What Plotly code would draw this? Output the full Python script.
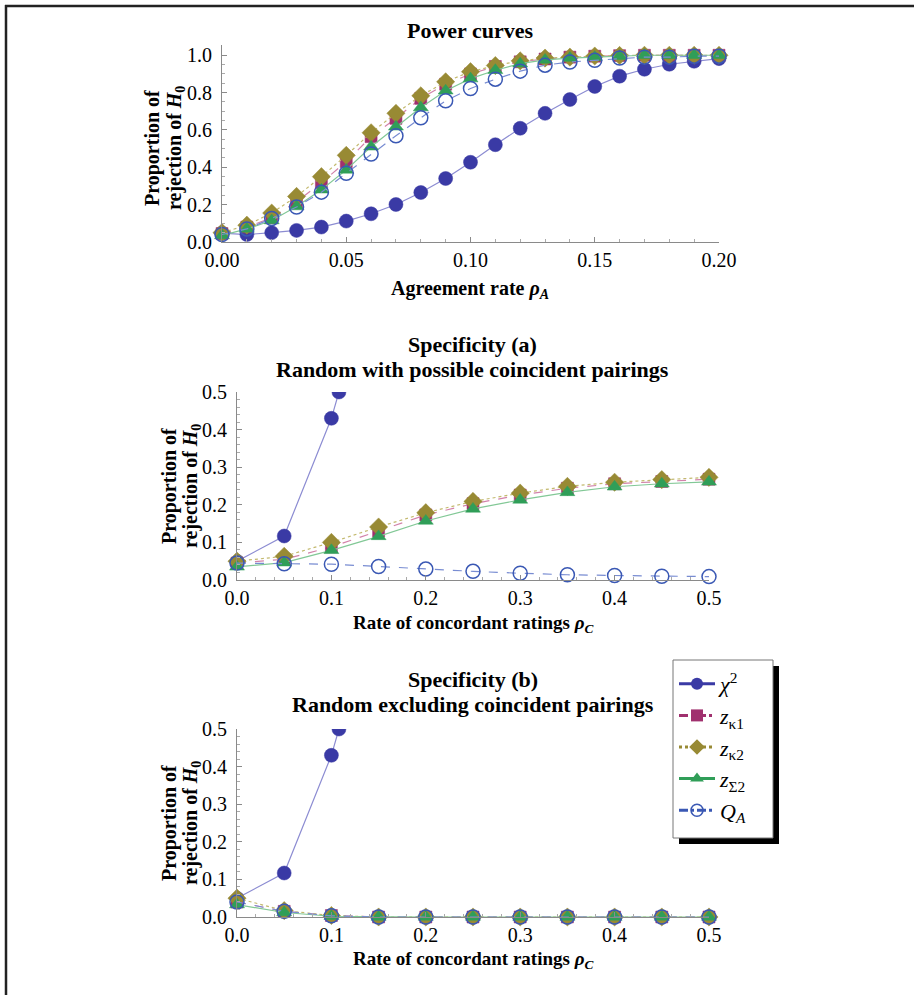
import plotly.graph_objects as go

# ---------------- data ----------------
rho_A = [0.00, 0.01, 0.02, 0.03, 0.04, 0.05, 0.06, 0.07, 0.08, 0.09, 0.10,
         0.11, 0.12, 0.13, 0.14, 0.15, 0.16, 0.17, 0.18, 0.19, 0.20]
pow_chi2 = [0.048, 0.040, 0.050, 0.062, 0.080, 0.112, 0.151, 0.201, 0.265, 0.340, 0.427,
            0.521, 0.609, 0.689, 0.763, 0.833, 0.888, 0.925, 0.952, 0.968, 0.982]
pow_zk1 = [0.045, 0.080, 0.130, 0.215, 0.318, 0.430, 0.564, 0.662, 0.769, 0.845, 0.900,
           0.940, 0.965, 0.980, 0.990, 0.995, 0.998, 1.000, 1.000, 1.000, 1.000]
pow_zk2 = [0.050, 0.090, 0.155, 0.244, 0.350, 0.464, 0.585, 0.689, 0.783, 0.858, 0.912,
           0.945, 0.970, 0.985, 0.990, 0.996, 0.999, 1.000, 1.000, 1.000, 1.000]
pow_zS2 = [0.035, 0.070, 0.115, 0.190, 0.280, 0.386, 0.510, 0.617, 0.720, 0.810, 0.875,
           0.920, 0.955, 0.975, 0.985, 0.990, 0.995, 1.000, 1.000, 1.000, 1.000]
pow_QA = [0.040, 0.070, 0.126, 0.187, 0.267, 0.368, 0.471, 0.569, 0.665, 0.756, 0.822,
          0.872, 0.915, 0.947, 0.964, 0.973, 0.985, 0.990, 0.990, 0.995, 0.995]

rho_C = [0.0, 0.05, 0.10, 0.15, 0.20, 0.25, 0.30, 0.35, 0.40, 0.45, 0.50]
chi2_x = [0.0, 0.05, 0.10, 0.108]
chi2_y = [0.050, 0.117, 0.430, 0.500]

spa_zk1 = [0.045, 0.055, 0.088, 0.130, 0.173, 0.203, 0.226, 0.244, 0.256, 0.262, 0.268]
spa_zk2 = [0.050, 0.063, 0.100, 0.141, 0.179, 0.209, 0.231, 0.249, 0.260, 0.267, 0.273]
spa_zS2 = [0.035, 0.046, 0.079, 0.116, 0.157, 0.189, 0.213, 0.233, 0.248, 0.256, 0.261]
spa_QA = [0.045, 0.043, 0.042, 0.036, 0.029, 0.023, 0.018, 0.014, 0.012, 0.010, 0.009]

spb_zk1 = [0.040, 0.015, 0.004, 0.0, 0.0, 0.0, 0.0, 0.0, 0.0, 0.0, 0.0]
spb_zk2 = [0.050, 0.017, 0.004, 0.0, 0.0, 0.0, 0.0, 0.0, 0.0, 0.0, 0.0]
spb_zS2 = [0.033, 0.012, 0.002, 0.0, 0.0, 0.0, 0.0, 0.0, 0.0, 0.0, 0.0]
spb_QA = [0.040, 0.015, 0.003, 0.0, 0.0, 0.0, 0.0, 0.0, 0.0, 0.0, 0.0]

names = ["<i>χ</i><sup>2</sup>", "<i>z</i><sub>κ1</sub>", "<i>z</i><sub>κ2</sub>",
         "<i>z</i><sub>Σ2</sub>", "<i>Q</i><sub><i>A</i></sub>"]

# ---------------- styling ----------------
W, H = 914, 995
def fx(px): return px / W
def fy(py): return 1 - py / H

SERIF = "Liberation Serif"
mk_col = ["rgb(58,58,165)", "rgb(160,48,110)", "rgb(152,138,52)", "rgb(48,158,88)", "rgb(58,88,180)"]
ln_col = ["rgb(140,140,210)", "rgb(210,130,170)", "rgb(195,185,110)", "rgb(130,200,150)", "rgb(120,140,210)"]
symbols = ["circle", "square", "diamond", "triangle-up", "circle-open"]
sizes = [14, 12, 14, 13, 14]
dashes = ["solid", "dash", "dot", "solid", "dash"]
leg_dash = ["solid", "dashdot", "dot", "solid", "dashdot"]

fig = go.Figure()

def add_series(xs, ys, i, xa, ya, clip=False):
    fig.add_trace(go.Scatter(
        x=xs, y=ys, mode="lines+markers", xaxis=xa, yaxis=ya, showlegend=False,
        cliponaxis=clip,
        line=dict(color=ln_col[i], width=1.2, dash=dashes[i]),
        marker=dict(symbol=symbols[i], size=sizes[i], color=mk_col[i],
                    line=dict(color=mk_col[i], width=1.5 if i == 4 else 0.5))))

# top: power curves
for i, ys in enumerate([pow_chi2, pow_zk1, pow_zk2, pow_zS2, pow_QA]):
    add_series(rho_A, ys, i, "x", "y")
# middle: specificity (a)
add_series(chi2_x, chi2_y, 0, "x2", "y2", clip=True)
for i, ys in zip([1, 2, 3, 4], [spa_zk1, spa_zk2, spa_zS2, spa_QA]):
    add_series(rho_C, ys, i, "x2", "y2")
# bottom: specificity (b)
add_series(chi2_x, chi2_y, 0, "x3", "y3", clip=True)
for i, ys in zip([1, 2, 3, 4], [spb_zk1, spb_zk2, spb_zS2, spb_QA]):
    add_series(rho_C, ys, i, "x3", "y3")

# legend entries
for i in range(5):
    fig.add_trace(go.Scatter(
        x=[None], y=[None], mode="lines+markers", name=names[i], legendgroup=f"g{i}",
        line=dict(color=mk_col[i], width=3, dash=leg_dash[i]),
        marker=dict(symbol=symbols[i], size=12, color=mk_col[i],
                    line=dict(color=mk_col[i], width=1.5 if i == 4 else 0))))

axis_common = dict(showline=True, linecolor="#8a8a8a", linewidth=1, ticks="inside",
                   ticklen=5, tickcolor="#8a8a8a", showgrid=False, zeroline=False,
                   automargin=False,
                   tickfont=dict(family=SERIF, size=20, color="black"), fixedrange=True)

def ax(domain, rng, dtick, fmt, mdt, anchor, standoff):
    d = dict(axis_common)
    d.update(domain=domain, range=rng, dtick=dtick, tick0=0, tickformat=fmt, anchor=anchor,
             ticklabelstandoff=standoff,
             minor=dict(ticks="inside", ticklen=3, tickcolor="#aaaaaa", dtick=mdt))
    return d

fig.update_layout(
    template="none",
    width=W, height=H, margin=dict(l=0, r=0, t=0, b=0, pad=0, autoexpand=False),
    paper_bgcolor="white", plot_bgcolor="white",
    xaxis=ax([fx(222), fx(719)], [0, 0.2], 0.05, ".2f", 0.01, "y", 0),
    yaxis=ax([fy(242), fy(45)], [0, 1.055], 0.2, ".1f", 0.05, "x", 5),
    xaxis2=ax([fx(237), fx(709)], [0, 0.5], 0.1, ".1f", 0.02, "y2", 0),
    yaxis2=ax([fy(580), fy(392)], [0, 0.5], 0.1, ".1f", 0.02, "x2", 5),
    xaxis3=ax([fx(237), fx(709)], [0, 0.5], 0.1, ".1f", 0.02, "y3", 0),
    yaxis3=ax([fy(917), fy(729)], [0, 0.5], 0.1, ".1f", 0.02, "x3", 5),
    legend=dict(x=fx(674), y=fy(663), xanchor="left", yanchor="top",
                bgcolor="rgba(0,0,0,0)", borderwidth=0,
                font=dict(family=SERIF, size=22, color="black"),
                itemwidth=36, tracegroupgap=11, traceorder="normal"),
    showlegend=True,
)

ann = []
def text(x, y, s, size=22, angle=0):
    ann.append(dict(x=fx(x), y=fy(y), xref="paper", yref="paper", text=s, showarrow=False,
                    xanchor="center", yanchor="middle", textangle=angle,
                    font=dict(family=SERIF, size=size, color="black")))

YT1 = "<b>Proportion of</b>"
YT2 = "<b>rejection of <i>H</i><sub>0</sub></b>"

text(470, 30, "<b>Power curves</b>")
text(470, 289, "<b>Agreement rate <i>ρ</i><sub><i>A</i></sub></b>", 20)
text(153, 148, YT1, 20, -90)
text(176, 148, YT2, 20, -90)

text(473, 344, "<b>Specificity (a)</b>")
text(473, 369, "<b>Random with possible coincident pairings</b>")
text(473, 624, "<b>Rate of concordant ratings <i>ρ</i><sub><i>C</i></sub></b>", 19)
text(169, 486, YT1, 20, -90)
text(191, 486, YT2, 20, -90)

text(473, 679, "<b>Specificity (b)</b>")
text(473, 704, "<b>Random excluding coincident pairings</b>")
text(473, 960, "<b>Rate of concordant ratings <i>ρ</i><sub><i>C</i></sub></b>", 19)
text(169, 823, YT1, 20, -90)
text(191, 823, YT2, 20, -90)

fig.update_layout(annotations=ann)

shapes = [
    # legend shadow and box
    dict(type="rect", xref="paper", yref="paper", x0=fx(679), x1=fx(779), y0=fy(844), y1=fy(666),
         fillcolor="black", line=dict(width=0), layer="above"),
    dict(type="rect", xref="paper", yref="paper", x0=fx(673), x1=fx(773), y0=fy(838), y1=fy(660),
         fillcolor="white", line=dict(color="#777777", width=1), layer="above"),
    # outer frame (left and top)
    dict(type="line", xref="paper", yref="paper", x0=fx(6), x1=fx(6), y0=0, y1=fy(5),
         line=dict(color="#222222", width=2.5)),
    dict(type="line", xref="paper", yref="paper", x0=fx(5), x1=1, y0=fy(6), y1=fy(6),
         line=dict(color="#222222", width=2.5)),
]
fig.update_layout(shapes=shapes)

fig.write_html("out.html", config={"displayModeBar": False},
               post_script="document.body.style.margin='0px';document.body.style.overflow='hidden';")
